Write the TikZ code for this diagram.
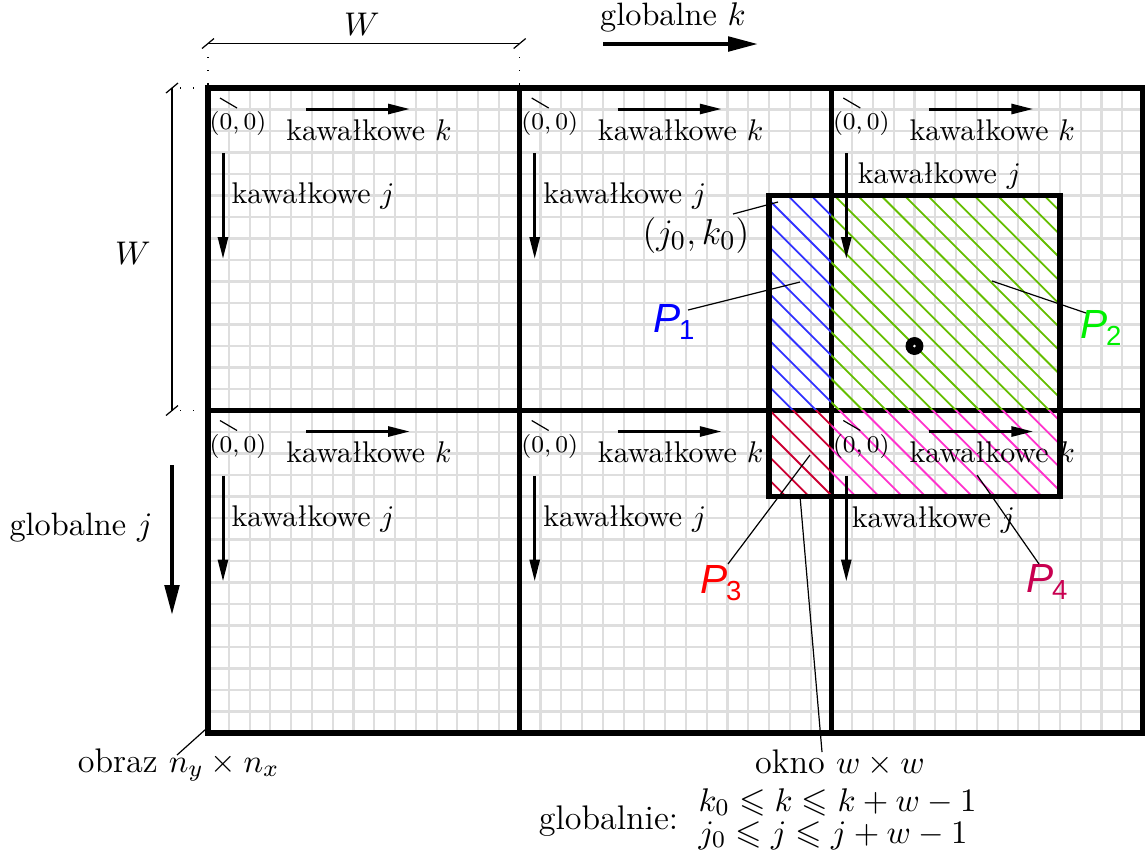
\documentclass[tikz,border=0pt]{standalone}
\usepackage{amssymb}
\usepackage{fontspec}
\newfontfamily\psans{Liberation Sans}
\usetikzlibrary{calc,arrows.meta}
\definecolor{hblue}{RGB}{50,50,255}
\definecolor{hgreen}{RGB}{100,190,0}
\definecolor{hred}{RGB}{204,0,51}
\definecolor{hpink}{RGB}{255,51,204}
\definecolor{lblue}{RGB}{0,0,255}
\definecolor{lgreen}{RGB}{0,240,0}
\definecolor{lred}{RGB}{255,0,0}
\definecolor{lpurple}{RGB}{200,0,80}
\definecolor{gridgray}{RGB}{222,222,222}
\newcommand\plabtext[1]{\itshape P\kern-0.5pt\raisebox{-0.3ex}{\upshape\fontsize{9.2}{9}\selectfont #1}}
\newcommand\blocklabels[5]{%
  \coordinate (#1) at (#2,#3);
  \node[zz, anchor=base] (#1z) at ($(#1)+(30,41.5)$) {$(0,0)$};
  \coordinate (#1za) at ($(#1)+(12,10)$);
  \coordinate (#1zb) at ($(#1)+(29,20)$);
  \draw[thinline] (#1za) -- (#1zb);
  \coordinate (#1ka) at ($(#1)+(98,21)$);
  \coordinate (#1kb) at ($(#1)+(202,21)$);
  \draw[localarrow] (#1ka) -- (#1kb);
  \node[kaw, anchor=base] (#1kt) at ($(#1)+(161,52)$) {kawałkowe $k$};
  \coordinate (#1ja) at ($(#1)+(15,65)$);
  \coordinate (#1jb) at ($(#1)+(15,171)$);
  \draw[localarrow] (#1ja) -- (#1jb);
  \node[kaw, anchor=base west] (#1jt) at ($(#1)+(#4,#5)$) {kawałkowe $j$};
}
\tikzset{
  blockline/.style={line width=1.8pt, line cap=rect},
  gridline/.style={gridgray, line width=0.7pt},
  thinline/.style={line width=0.4pt},
  hatch/.style={line width=0.6pt},
  localarrow/.style={line width=1pt, -{Triangle[length=7.3pt,width=3.3pt]}},
  globalarrow/.style={line width=1.35pt, -{Triangle[length=10pt,width=4.8pt]}},
  kaw/.style={inner sep=0pt, font=\normalsize},
  glob/.style={inner sep=0pt, font=\fontsize{10.8}{13}\selectfont},
  zz/.style={inner sep=0pt, font=\footnotesize},
  ann/.style={inner sep=0pt, font=\fontsize{11.4}{13.7}\selectfont},
  plab/.style={inner sep=0pt, font=\fontsize{13.6}{16}\selectfont\psans},
}
\begin{document}
\begin{tikzpicture}[x=0.334pt, y=-0.334pt]
\useasboundingbox (0,0) rectangle (1145,856);
% grid scope: 1 unit = one fine cell
\begin{scope}[shift={(208,88)}, x=6.94pt, y=-7.181pt]
  \foreach \i in {0,...,45} \draw[gridline] (\i,0) -- (\i,30);
  \foreach \j in {0,...,30} \draw[gridline] (0,\j) -- (45,\j);
  \foreach \i in {0,15,30,45} \draw[blockline] (\i,0) -- (\i,30);
  \foreach \j in {0,15,30} \draw[blockline] (0,\j) -- (45,\j);
  \coordinate (wa) at (27,5);
  \coordinate (wm) at (30,15);
  \coordinate (wb) at (41,19);
  \coordinate (wtm) at (30,5);
  \coordinate (wml) at (27,15);
  \coordinate (wbm) at (30,19);
  \coordinate (wmr) at (41,15);
  \coordinate (ctr) at (34,12);
\end{scope}
% hatching
\begin{scope}
  \clip (wa) rectangle (wm);
  \foreach \n in {-16,...,16} \draw[hatch, hblue] ({569+\n*23.3+150},150) -- ({569+\n*23.3+550},550);
\end{scope}
\begin{scope}
  \clip (wtm) rectangle (wmr);
  \foreach \n in {-16,...,16} \draw[hatch, hgreen] ({569+\n*23.3+150},150) -- ({569+\n*23.3+550},550);
\end{scope}
\begin{scope}
  \clip (wml) rectangle (wbm);
  \foreach \n in {-16,...,16} \draw[hatch, hred] ({569+\n*23.3+150},150) -- ({569+\n*23.3+550},550);
\end{scope}
\begin{scope}
  \clip (wm) rectangle (wb);
  \foreach \n in {-16,...,16} \draw[hatch, hpink] ({569+\n*23.3+150},150) -- ({569+\n*23.3+550},550);
\end{scope}
\draw[blockline] (wa) rectangle (wb);
\fill (ctr) circle[radius=3pt];
\fill[white] (ctr) circle[radius=0.5pt];
% block labels
\blocklabels{b00}{208}{88}{23}{115}
\blocklabels{b10}{519.7}{88}{23}{115}
\blocklabels{b20}{831.3}{88}{26}{95}
\blocklabels{b01}{208}{410.5}{23}{116}
\blocklabels{b11}{519.7}{410.5}{23}{116}
\blocklabels{b21}{831.3}{410.5}{20}{117}
% dimension W top
\coordinate (dta) at (208,43.5);
\coordinate (dtb) at (519.7,43.5);
\draw[thinline] (dta) -- (dtb);
\draw[thinline] ($(dta)+(-6,5)$) -- ($(dta)+(6,-5)$);
\draw[thinline] ($(dtb)+(-6,5)$) -- ($(dtb)+(6,-5)$);
\coordinate (dta1) at (208,57); \coordinate (dta2) at (208,86);
\coordinate (dtb1) at (519.7,57); \coordinate (dtb2) at (519.7,86);
\draw[thinline, loosely dotted] (dta1) -- (dta2);
\draw[thinline, loosely dotted] (dtb1) -- (dtb2);
\node[ann, anchor=base] (wtop) at (362,35) {$W$};
% dimension W left
\coordinate (dla) at (172,88);
\coordinate (dlb) at (172,410.5);
\draw[thinline] (dla) -- (dlb);
\draw[thinline] ($(dla)+(-6,5)$) -- ($(dla)+(6,-5)$);
\draw[thinline] ($(dlb)+(-6,5)$) -- ($(dlb)+(6,-5)$);
\coordinate (dla1) at (180,88); \coordinate (dla2) at (206,88);
\coordinate (dlb1) at (180,410.5); \coordinate (dlb2) at (206,410.5);
\draw[thinline, loosely dotted] (dla1) -- (dla2);
\draw[thinline, loosely dotted] (dlb1) -- (dlb2);
\node[ann, anchor=base] (wleft) at (133,264) {$W$};
% global arrows
\node[glob, anchor=base] (gk) at (673,25) {globalne $k$};
\coordinate (gka) at (603,44); \coordinate (gkb) at (758,44);
\draw[globalarrow] (gka) -- (gkb);
\node[glob, anchor=base] (gj) at (81,535) {globalne $j$};
\coordinate (gja) at (172,465); \coordinate (gjb) at (172,615);
\draw[globalarrow] (gja) -- (gjb);
% (j0,k0)
\node[inner sep=0pt, font=\fontsize{12.7}{15}\selectfont, anchor=base] (jk) at (696,244) {$(j_0,k_0)$};
\coordinate (jka) at (733,214); \coordinate (jkb) at (778,202);
\draw[thinline] (jka) -- (jkb);
% P labels
\node[plab, text=lblue] (p1) at (674,322) {\plabtext{1}};
\coordinate (p1a) at (688,310); \coordinate (p1b) at (800,282);
\draw[thinline] (p1a) -- (p1b);
\node[plab, text=lgreen] (p2) at (1101,328) {\plabtext{2}};
\coordinate (p2a) at (1086,313); \coordinate (p2b) at (992,281);
\draw[thinline] (p2a) -- (p2b);
\node[plab, text=lred] (p3) at (721,583) {\plabtext{3}};
\coordinate (p3a) at (728,564); \coordinate (p3b) at (810,455);
\draw[thinline] (p3a) -- (p3b);
\node[plab, text=lpurple] (p4) at (1047,582) {\plabtext{4}};
\coordinate (p4a) at (1039,564); \coordinate (p4b) at (977,475);
\draw[thinline] (p4a) -- (p4b);
% okno
\node[ann, anchor=base] (okno) at (840,773) {okno $w\times w$};
\coordinate (oka) at (822,752); \coordinate (okb) at (800,496);
\draw[thinline] (oka) -- (okb);
% obraz
\node[ann, anchor=base] (obraz) at (178.5,772) {obraz $n_y\times n_x$};
\coordinate (oba) at (177,755); \coordinate (obb) at (206,729);
\draw[thinline] (oba) -- (obb);
% globalnie
\node[ann, anchor=base] (glob) at (608.5,829) {globalnie:};
\node[ann, anchor=base west] (gl1) at (698,811) {$k_0\leqslant k\leqslant k+w-1$};
\node[ann, anchor=base west] (gl2) at (698,843) {$j_0\leqslant j\leqslant j+w-1$};
\end{tikzpicture}
\end{document}
